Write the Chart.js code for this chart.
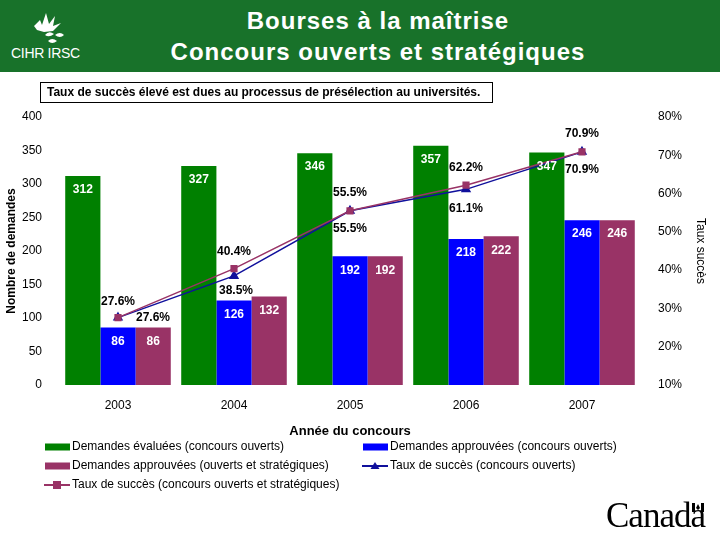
<!DOCTYPE html>
<html>
<head>
<meta charset="utf-8">
<script src="https://cdn.jsdelivr.net/npm/chart.js@4.4.1/dist/chart.umd.min.js"></script>
<style>
  body { margin: 0; background: #fff; font-family: "Liberation Sans", Arial, sans-serif; }
  #page { position: relative; width: 720px; height: 540px; overflow: hidden; }
  #grafico { position: absolute; left: 0; top: 0; }
  #band { position: absolute; left: 0; top: 0; width: 720px; height: 72px; background: #18722a; }
  #titre { position: absolute; left: 78px; width: 600px; top: 5px; text-align: center; color: #fff;
           font-weight: bold; font-size: 24px; letter-spacing: 1px; line-height: 31px; }
  #logo { position: absolute; left: 11px; top: 45px; color: #fff; font-size: 14px; letter-spacing: -0.3px; }
  #feuille { position: absolute; left: 31px; top: 10px; }
  #note { position: absolute; left: 40px; top: 82px; width: 453px; height: 21px; border: 1px solid #000;
          box-sizing: border-box; font-weight: bold; font-size: 12px; line-height: 19px; padding-left: 6px;
          white-space: nowrap; }
  #canada { position: absolute; left: 606px; top: 496px; font-family: "Liberation Serif", "Times New Roman", serif;
            font-size: 35px; color: #000; letter-spacing: -1px; }
  #drapeau { position: absolute; left: 692px; top: 503px; width: 12px; height: 9px; }
</style>
</head>
<body>
<div id="page">
  <canvas id="grafico" width="720" height="540"></canvas>
  <div id="band"></div>
  <svg id="feuille" width="36" height="36" viewBox="0 0 36 36">
    <path d="M3 16 L9 10 L11 15 L15 3 L18 14 L24 6 L22 16 L30 13 L22 21 L13 22 L6 20 Z" fill="#fff"/>
    <path d="M14 25 Q18 20 23 24 Q18 28 14 25 Z" fill="#fff"/>
    <path d="M24 25 Q29 21 33 25 Q29 29 24 25 Z" fill="#fff"/>
    <path d="M17 31 Q21 27 26 31 Q21 35 17 31 Z" fill="#fff"/>
  </svg>
  <div id="logo">CIHR IRSC</div>
  <div id="titre">Bourses à la maîtrise<br>Concours ouverts et stratégiques</div>
  <div id="note">Taux de succès élevé est dues au processus de présélection au universités.</div>
  <div id="canada">Canada</div>
  <svg id="drapeau" width="12" height="9" viewBox="0 0 12 9">
    <rect x="0" y="0" width="3" height="9" fill="#000"/>
    <rect x="9" y="0" width="3" height="9" fill="#000"/>
    <path d="M6 1 L8 5 L6 7 L4 5 Z" fill="#000"/>
  </svg>
</div>
<script>
const annees = ["2003", "2004", "2005", "2006", "2007"];
const evaluees = [312, 327, 346, 357, 347];
const approuveesOuverts = [86, 126, 192, 218, 246];
const approuveesStrat = [86, 132, 192, 222, 246];
const tauxOuverts = [27.6, 38.5, 55.5, 61.1, 70.9];
const tauxStrat = [27.6, 40.4, 55.5, 62.2, 70.9];

const police = '"Liberation Sans", Arial, sans-serif';
Chart.defaults.font.family = police;
Chart.defaults.color = "#000";

// decalage des etiquettes de pourcentage (x, y) par point
const decalages = {
    3: [[35, 0], [2, 15], [0, 18], [0, 19], [0, 18]],
    4: [[0, -16], [0, -17], [0, -18], [0, -17], [0, -18]]
};

const etiquettes = {
    id: "etiquettes",
    afterDatasetsDraw(chart) {
        const ctx = chart.ctx;
        ctx.save();
        ctx.textAlign = "center";
        ctx.textBaseline = "middle";
        ctx.font = "bold 12px " + police;
        chart.data.datasets.forEach((ds, i) => {
            const meta = chart.getDatasetMeta(i);
            meta.data.forEach((el, j) => {
                const v = ds.data[j];
                if (ds.type === "line") {
                    const d = decalages[i][j];
                    ctx.fillStyle = "#000";
                    ctx.fillText(v.toFixed(1) + "%", el.x + d[0], el.y + d[1]);
                } else {
                    ctx.fillStyle = "#fff";
                    ctx.fillText(String(v), el.x, el.y + 14);
                }
            });
        });
        ctx.restore();
    }
};

// legende sur deux colonnes
const legende = {
    id: "legende",
    afterDraw(chart) {
        const ctx = chart.ctx;
        const places = [[45, 447], [363, 447], [45, 466], [363, 466], [45, 485]];
        ctx.save();
        ctx.font = "12px " + police;
        ctx.textBaseline = "middle";
        ctx.textAlign = "left";
        chart.data.datasets.forEach((ds, i) => {
            const [x, y] = places[i];
            if (ds.type === "line") {
                ctx.strokeStyle = ds.borderColor;
                ctx.lineWidth = 2;
                ctx.beginPath();
                ctx.moveTo(x - 1, y);
                ctx.lineTo(x + 25, y);
                ctx.stroke();
                ctx.fillStyle = ds.borderColor;
                const cx = x + 12;
                if (ds.pointStyle === "triangle") {
                    ctx.beginPath();
                    ctx.moveTo(cx, y - 4);
                    ctx.lineTo(cx + 4.5, y + 3);
                    ctx.lineTo(cx - 4.5, y + 3);
                    ctx.closePath();
                    ctx.fill();
                } else {
                    ctx.fillRect(cx - 4, y - 4, 8, 8);
                }
            } else {
                ctx.fillStyle = ds.backgroundColor;
                ctx.fillRect(x, y - 3.5, 25, 7);
            }
            ctx.fillStyle = "#000";
            ctx.fillText(ds.label, x + 27, y);
        });
        ctx.restore();
    }
};

const ctx = document.getElementById("grafico").getContext("2d");
const chart = new Chart(ctx, {
    type: "bar",
    data: {
        labels: annees,
        datasets: [
            { type: "bar", label: "Demandes évaluées (concours ouverts)", data: evaluees,
              backgroundColor: "#008000", yAxisID: "y", order: 3 },
            { type: "bar", label: "Demandes approuvées (concours ouverts)", data: approuveesOuverts,
              backgroundColor: "#0000ff", yAxisID: "y", order: 3 },
            { type: "bar", label: "Demandes approuvées (ouverts et stratégiques)", data: approuveesStrat,
              backgroundColor: "#993366", yAxisID: "y", order: 3 },
            { type: "line", label: "Taux de succès (concours ouverts)", data: tauxOuverts,
              borderColor: "#10109c", backgroundColor: "#10109c", borderWidth: 1.5,
              pointStyle: "triangle", pointRadius: 4.5, yAxisID: "y1", order: 1 },
            { type: "line", label: "Taux de succès (concours ouverts et stratégiques)", data: tauxStrat,
              borderColor: "#993366", backgroundColor: "#993366", borderWidth: 1.5,
              pointStyle: "rect", pointRadius: 4, yAxisID: "y1", order: 0 }
        ]
    },
    options: {
        responsive: false,
        animation: false,
        layout: { padding: { top: 117, bottom: 100, left: 0, right: 0 } },
        datasets: { bar: { categoryPercentage: 0.91, barPercentage: 1.0 } },
        plugins: { legend: { display: false }, tooltip: { enabled: false } },
        scales: {
            x: {
                grid: { display: false }, border: { display: false },
                ticks: { font: { size: 12 }, padding: 5 },
                title: { display: true, text: "Année du concours", font: { size: 13, weight: "bold" },
                         padding: { top: 0, bottom: 1 } },
                afterFit: s => { s.height = 55; }
            },
            y: {
                position: "left", min: 0, max: 400,
                grid: { display: false }, border: { display: false },
                ticks: { stepSize: 50, font: { size: 12 }, padding: 10 },
                title: { display: true, text: "Nombre de demandes", font: { size: 12, weight: "bold" },
                         padding: { top: 4, bottom: 0 } },
                afterFit: s => { s.width = 60; }
            },
            y1: {
                position: "right", min: 10, max: 80,
                grid: { display: false }, border: { display: false },
                ticks: { stepSize: 10, font: { size: 12 }, padding: 10, callback: v => v + "%" },
                title: { display: true, text: "Taux succès", font: { size: 12 },
                         padding: { top: 12, bottom: 0 } },
                afterFit: s => { s.width = 80; }
            }
        }
    },
    plugins: [etiquettes, legende]
});
</script>
</body>
</html>
